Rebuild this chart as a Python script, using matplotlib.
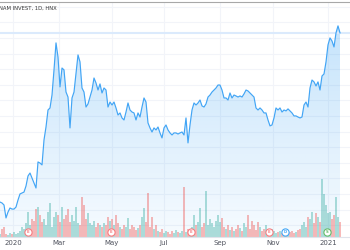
import matplotlib
matplotlib.use('Agg')
import matplotlib.pyplot as plt
import matplotlib.transforms as mtransforms
import numpy as np

# daily close (thousand VND)
price = [7.49, 7.43, 7.30, 6.47, 6.85, 7.11, 7.04, 7.04, 7.17, 7.62,
         8.01, 8.07, 8.13, 8.52, 9.16, 9.35, 9.03, 8.71, 8.39, 10.06,
         9.99, 9.87, 11.47, 12.30, 13.39, 13.52, 14.35, 15.96, 17.69, 16.79,
         14.87, 16.08, 15.96, 14.54, 14.22, 12.24, 14.16, 14.54, 15.76, 16.92,
         16.47, 14.80, 14.54, 13.58, 13.78, 14.22, 14.67, 15.44, 15.12, 14.67,
         15.06, 14.48, 14.80, 14.67, 13.58, 13.90, 13.71, 13.90, 13.52, 13.07,
         13.20, 12.88, 12.75, 13.26, 13.84, 13.39, 13.26, 13.20, 12.75, 13.20,
         12.94, 13.58, 14.16, 13.90, 12.56, 12.24, 11.98, 12.24, 12.11, 12.30,
         11.92, 11.60, 12.24, 12.43, 12.11, 11.92, 11.79, 11.92, 11.92, 11.85,
         11.92, 11.98, 11.79, 12.88, 11.28, 12.43, 13.39, 13.84, 13.71, 13.84,
         14.03, 13.65, 13.58, 13.78, 14.22, 14.35, 14.54, 14.67, 14.80, 14.99,
         14.99, 14.67, 14.16, 14.16, 14.03, 14.48, 14.16, 14.35, 14.29, 14.22,
         14.29, 14.22, 14.42, 14.67, 14.61, 14.48, 14.35, 14.22, 13.52, 13.39,
         13.52, 13.39, 13.20, 13.20, 12.75, 12.37, 12.43, 12.88, 13.52, 13.39,
         13.52, 13.26, 13.39, 13.33, 13.46, 13.33, 13.20, 13.01, 13.01, 12.94,
         12.88, 12.94, 13.71, 13.90, 13.58, 14.80, 15.31, 15.19, 14.93, 15.19,
         14.67, 15.57, 15.70, 16.47, 17.56, 18.01, 17.81, 17.43, 18.33, 18.78,
         18.33]

# volume (thousand shares)
volume = [60, 160, 200, 60, 40, 80, 60, 100, 60, 80,
          120, 200, 160, 280, 500, 240, 360, 320, 560, 600,
          440, 300, 360, 240, 500, 680, 200, 400, 500, 440,
          300, 600, 360, 440, 560, 300, 440, 320, 600, 280,
          240, 800, 640, 360, 480, 280, 240, 320, 200, 280,
          240, 200, 280, 240, 400, 320, 360, 240, 440, 280,
          200, 160, 240, 200, 380, 160, 240, 200, 140, 180,
          240, 400, 580, 300, 880, 200, 400, 160, 240, 120,
          100, 160, 80, 120, 100, 60, 120, 80, 140, 100,
          80, 120, 1000, 100, 160, 60, 200, 440, 240, 300,
          580, 200, 280, 920, 240, 360, 280, 200, 320, 440,
          300, 380, 200, 160, 240, 140, 200, 120, 160, 240,
          180, 120, 280, 200, 440, 160, 320, 240, 140, 300,
          200, 120, 160, 240, 120, 100, 160, 120, 80, 100,
          120, 80, 100, 120, 80, 100, 120, 80, 100, 140,
          160, 240, 300, 200, 400, 360, 500, 280, 480, 400,
          300, 1160, 860, 640, 480, 500, 360, 440, 800, 400,
          300]

tick_pos = [6.5, 29.5, 56, 82, 110, 136.5, 164]
tick_labels = ['2020', 'Mar', 'May', 'Jul', 'Sep', 'Nov', '2021']

event_pos = [14, 55.5, 95.5, 134.5, 142.5, 163.5]
event_kind = ['E', 'E', 'E', 'E', 'D', 'S']
event_color = {'E': '#f77c80', 'D': '#42a5f5', 'S': '#66bb6a'}

fig = plt.figure(figsize=(3.5, 2.5), dpi=100)
ax = fig.add_axes([0, 13 / 250, 1, 235 / 250])
x = np.arange(len(price))
ax.set_xlim(0, 175)
ax.set_ylim(5.25, 20.31)

# grid
ax.set_yticks(np.arange(6, 21, 1))
ax.set_xticks(tick_pos, tick_labels)
ax.grid(True, color='#f2f4f9', lw=0.8)
ax.set_axisbelow(True)
ax.tick_params(axis='y', length=0, labelleft=False)
ax.tick_params(axis='x', length=0, pad=2.5, labelsize=5, labelcolor='#50535e')
for s in ['top', 'left', 'right']:
    ax.spines[s].set_visible(False)
ax.spines['bottom'].set_color('#e0e3eb')
ax.spines['bottom'].set_linewidth(0.8)

# gradient area under the line
ymin = ax.get_ylim()[0]
poly = ax.fill_between(x, price, ymin, color='none', lw=0)
grad = np.zeros((100, 1, 4))
grad[:, 0, 0] = 33 / 255
grad[:, 0, 1] = 150 / 255
grad[:, 0, 2] = 243 / 255
grad[:, 0, 3] = np.linspace(0.26, 0.04, 100)
im = ax.imshow(grad, extent=[0, len(price) - 1, ymin, max(price)],
               aspect='auto', origin='upper', zorder=1)
im.set_clip_path(poly.get_paths()[0], transform=ax.transData)

# volume bars at the bottom
vol_trans = mtransforms.blended_transform_factory(
    ax.transData, mtransforms.Affine2D().scale(1, 1 / 4700) + ax.transAxes)
cols = []
for i in range(len(price)):
    up = i == 0 or price[i] >= price[i - 1]
    cols.append((38 / 255, 166 / 255, 154 / 255, 0.36) if up else (239 / 255, 83 / 255, 80 / 255, 0.4))
ax.bar(x, volume, width=0.6, color=cols, transform=vol_trans, zorder=1.5)

# price line and last price line
ax.axhline(price[-1], color='#dbeafc', lw=1.5, zorder=1.2)
ax.plot(x, price, color='#42a5f5', lw=0.85, zorder=3)

# event badges
ev_trans = mtransforms.blended_transform_factory(ax.transData, ax.transAxes)
for p, k in zip(event_pos, event_kind):
    c = event_color[k]
    ax.plot(p, 0.0226, 'o', ms=5.2, mfc='white', mec=c, mew=0.8, transform=ev_trans, zorder=4)
    ax.text(p, 0.0226, k, fontsize=2.8, color=c, ha='center', va='center',
            transform=ev_trans, zorder=5, fontweight='bold')

fig.add_artist(plt.Line2D([0, 1], [248 / 250, 248 / 250], color='#a8a8a8', lw=0.8))
fig.text(-0.003, 242 / 250, 'NAM INVEST, 1D, HNX', fontsize=3.8, color='#333333', va='center')

fig.savefig('out.png', dpi=100)
